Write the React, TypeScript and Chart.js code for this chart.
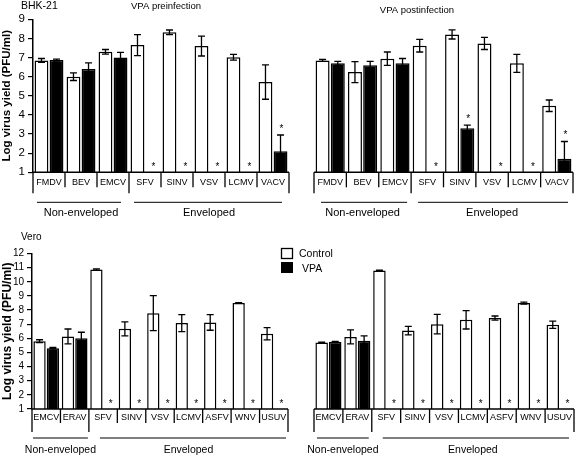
import React, { useEffect, useRef } from "react";
import { Chart, registerables } from "chart.js";
Chart.register(...registerables);

const FONT = "'Liberation Sans', Arial, Helvetica, sans-serif";
Chart.defaults.font.family = FONT;

// ---------- DATA ----------
const bhkCategories = ["FMDV", "BEV", "EMCV", "SFV", "SINV", "VSV", "LCMV", "VACV"];
const bhkGroupLabels = ["Non-enveloped", "Enveloped"];
const bhkGroupSizes = [3, 5];

const preControl = [6.85, 6.0, 7.3, 7.65, 8.32, 7.6, 7.02, 5.72];
const preControlErr = [0.1, 0.2, 0.12, 0.55, 0.12, 0.52, 0.15, 0.9];
const preVpa: (number | null)[] = [6.87, 6.4, 7.0, null, null, null, null, 2.1];
const preVpaErr = [0.05, 0.32, 0.27, 0, 0, 0, 0, 0.85];
const preStars = [false, false, false, true, true, true, true, true];

const postControl = [6.85, 6.24, 6.94, 7.62, 8.21, 7.74, 6.7, 4.48];
const postControlErr = [0.05, 0.55, 0.35, 0.33, 0.24, 0.32, 0.47, 0.3];
const postVpa: (number | null)[] = [6.7, 6.6, 6.7, null, 3.3, null, null, 1.71];
const postVpaErr = [0.1, 0.2, 0.25, 0, 0.17, 0, 0, 0.9];
const postStars = [false, false, false, true, true, true, true, true];

const veroCategories = ["EMCV", "ERAV", "SFV", "SINV", "VSV", "LCMV", "ASFV", "WNV", "USUV"];
const veroGroupLabels = ["Non-enveloped", "Enveloped"];
const veroGroupSizes = [2, 7];

const veroPreControl = [5.8, 6.13, 10.86, 6.67, 7.78, 7.08, 7.12, 8.5, 6.32];
const veroPreControlErr = [0.1, 0.53, 0.05, 0.5, 1.24, 0.6, 0.55, 0.03, 0.43];
const veroPreVpa: (number | null)[] = [5.3, 6.01, null, null, null, null, null, null, null];
const veroPreVpaErr = [0.05, 0.42, 0, 0, 0, 0, 0, 0, 0];
const veroPreStars = [false, false, true, true, true, true, true, true, true];

const veroPostControl = [5.7, 6.1, 10.79, 6.55, 7.0, 7.31, 7.43, 8.49, 6.96];
const veroPostControlErr = [0.03, 0.5, 0.03, 0.3, 0.69, 0.65, 0.15, 0.07, 0.26];
const veroPostVpa: (number | null)[] = [5.75, 5.82, null, null, null, null, null, null, null];
const veroPostVpaErr = [0.03, 0.35, 0, 0, 0, 0, 0, 0, 0];
const veroPostStars = [false, false, true, true, true, true, true, true, true];

const seriesNames = ["Control", "VPA"];
const yTitle = "Log virus yield (PFU/ml)";

// ---------- LAYOUT ----------
type Heading = { text: string; x: number; y: number; align: CanvasTextAlign; size: number };
type Panel = {
  left: number; top: number; width: number; height: number;
  pad: { left: number; right: number; top: number; bottom: number };
  yMin: number; yMax: number; showY: boolean; yAxisWidth: number; tickSize: number; titleSize: number;
  categories: string[]; control: (number | null)[]; controlErr: number[];
  vpa: (number | null)[]; vpaErr: number[]; stars: boolean[];
  groupLabels: string[]; groupSizes: number[]; groupInsets: [number, number][];
  headings: Heading[]; legend: boolean;
  labelDy: number; innerDy: number; outerDy: number; groupLineDy: number; groupTextDy: number; groupTextSize: number;
};

const panels: Panel[] = [
  {
    left: 0, top: 0, width: 292, height: 230,
    pad: { left: 0, right: 3, top: 19.3, bottom: 57.7 },
    yMin: 1, yMax: 9, showY: true, yAxisWidth: 33, tickSize: 11.5, titleSize: 11.5,
    categories: bhkCategories, control: preControl, controlErr: preControlErr,
    vpa: preVpa, vpaErr: preVpaErr, stars: preStars,
    groupLabels: bhkGroupLabels, groupSizes: bhkGroupSizes, groupInsets: [[4, 8], [5, 7]],
    headings: [
      { text: "BHK-21", x: 21, y: 6, align: "left", size: 10.5 },
      { text: "VPA preinfection", x: 166, y: 6, align: "center", size: 9.5 },
    ],
    legend: false,
    labelDy: 10, innerDy: 15, outerDy: 21, groupLineDy: 30, groupTextDy: 41, groupTextSize: 11,
  },
  {
    left: 290, top: 0, width: 286, height: 230,
    pad: { left: 24, right: 3, top: 19.3, bottom: 57.7 },
    yMin: 1, yMax: 9, showY: false, yAxisWidth: 0, tickSize: 11, titleSize: 11.5,
    categories: bhkCategories, control: postControl, controlErr: postControlErr,
    vpa: postVpa, vpaErr: postVpaErr, stars: postStars,
    groupLabels: bhkGroupLabels, groupSizes: bhkGroupSizes, groupInsets: [[7, 4], [7, 5]],
    headings: [{ text: "VPA postinfection", x: 127, y: 10, align: "center", size: 9.5 }],
    legend: false,
    labelDy: 10, innerDy: 15, outerDy: 21, groupLineDy: 30, groupTextDy: 41, groupTextSize: 11,
  },
  {
    left: 0, top: 230, width: 290, height: 226,
    pad: { left: 0, right: 2, top: 23.5, bottom: 47 },
    yMin: 1, yMax: 12, showY: true, yAxisWidth: 32, tickSize: 10, titleSize: 12,
    categories: veroCategories, control: veroPreControl, controlErr: veroPreControlErr,
    vpa: veroPreVpa, vpaErr: veroPreVpaErr, stars: veroPreStars,
    groupLabels: veroGroupLabels, groupSizes: veroGroupSizes, groupInsets: [[1, 1], [11, 2]],
    headings: [{ text: "Vero", x: 21, y: 7, align: "left", size: 10 }],
    legend: false,
    labelDy: 9, innerDy: 14, outerDy: 23, groupLineDy: 29, groupTextDy: 41, groupTextSize: 10.5,
  },
  {
    left: 276, top: 230, width: 300, height: 226,
    pad: { left: 38, right: 2, top: 23.5, bottom: 47 },
    yMin: 1, yMax: 12, showY: false, yAxisWidth: 0, tickSize: 10, titleSize: 12,
    categories: veroCategories, control: veroPostControl, controlErr: veroPostControlErr,
    vpa: veroPostVpa, vpaErr: veroPostVpaErr, stars: veroPostStars,
    groupLabels: veroGroupLabels, groupSizes: veroGroupSizes, groupInsets: [[3, 3], [11, 5]],
    headings: [],
    legend: true,
    labelDy: 9, innerDy: 14, outerDy: 23, groupLineDy: 29, groupTextDy: 41, groupTextSize: 10.5,
  },
];

function makePlugin(p: Panel) {
  return {
    id: "panelDecor",
    afterDatasetsDraw(chart: any) {
      const ctx: CanvasRenderingContext2D = chart.ctx;
      const y = chart.scales.y;
      const sets: [(number | null)[], number[], boolean[] | null][] = [
        [p.control, p.controlErr, null],
        [p.vpa, p.vpaErr, p.stars],
      ];
      ctx.save();
      ctx.strokeStyle = "#000";
      ctx.fillStyle = "#000";
      ctx.lineWidth = 1.3;
      sets.forEach(([vals, errs, stars], di) => {
        const meta = chart.getDatasetMeta(di);
        vals.forEach((v, j) => {
          const el = meta.data[j];
          if (!el) return;
          const bx = el.x;
          if (v != null && errs[j] > 0) {
            const yt = y.getPixelForValue(v + errs[j]);
            const yb = y.getPixelForValue(Math.max(v - errs[j], p.yMin));
            ctx.beginPath();
            ctx.moveTo(bx, yt); ctx.lineTo(bx, yb);
            ctx.moveTo(bx - 3.5, yt); ctx.lineTo(bx + 3.5, yt);
            ctx.moveTo(bx - 3.5, yb); ctx.lineTo(bx + 3.5, yb);
            ctx.stroke();
          }
          if (stars && stars[j]) {
            const ref = v == null ? y.getPixelForValue(p.yMin) : y.getPixelForValue(v + errs[j]);
            const cy = ref - (v == null ? 7.5 : 9);
            ctx.font = `10px ${FONT}`;
            ctx.textAlign = "center";
            ctx.textBaseline = "alphabetic";
            ctx.fillText("*", bx + 1, cy + 5.6);
          }
        });
      });
      ctx.restore();
    },
    afterDraw(chart: any) {
      const ctx: CanvasRenderingContext2D = chart.ctx;
      const area = chart.chartArea;
      const y = chart.scales.y;
      const n = p.categories.length;
      const cw = (area.right - area.left) / n;
      const y0 = y.getPixelForValue(p.yMin);
      ctx.save();
      ctx.strokeStyle = "#000";
      ctx.fillStyle = "#000";
      // baseline
      ctx.lineWidth = 1.5;
      ctx.beginPath();
      ctx.moveTo(area.left - (p.showY ? 0.75 : 0), y0);
      ctx.lineTo(area.right, y0);
      ctx.stroke();
      // separators
      const outer = new Set<number>([0, n]);
      let acc = 0;
      p.groupSizes.forEach((s) => { acc += s; outer.add(acc); });
      ctx.lineWidth = 1.3;
      for (let k = 0; k <= n; k++) {
        const x = area.left + k * cw;
        ctx.beginPath();
        ctx.moveTo(x, y0);
        ctx.lineTo(x, y0 + (outer.has(k) ? p.outerDy : p.innerDy));
        ctx.stroke();
      }
      // category labels
      ctx.font = `9px ${FONT}`;
      ctx.textAlign = "center";
      ctx.textBaseline = "middle";
      p.categories.forEach((c, i) => {
        ctx.fillText(c, area.left + (i + 0.5) * cw, y0 + p.labelDy);
      });
      // groups
      let start = 0;
      p.groupSizes.forEach((s, g) => {
        const xs = area.left + start * cw;
        const xe = area.left + (start + s) * cw;
        const [il, ir] = p.groupInsets[g];
        ctx.lineWidth = 1;
        ctx.beginPath();
        ctx.moveTo(xs + il, y0 + p.groupLineDy);
        ctx.lineTo(xe - ir, y0 + p.groupLineDy);
        ctx.stroke();
        ctx.font = `${p.groupTextSize}px ${FONT}`;
        ctx.fillText(p.groupLabels[g], (xs + xe) / 2, y0 + p.groupTextDy);
        start += s;
      });
      // headings
      p.headings.forEach((h) => {
        ctx.font = `${h.size}px ${FONT}`;
        ctx.textAlign = h.align;
        ctx.textBaseline = "middle";
        ctx.fillText(h.text, h.x, h.y);
      });
      // legend
      if (p.legend) {
        ctx.lineWidth = 1.3;
        ctx.fillStyle = "#fff";
        ctx.fillRect(5.5, 18.5, 11, 10);
        ctx.strokeRect(5.5, 18.5, 11, 10);
        ctx.fillStyle = "#000";
        ctx.fillRect(5, 32, 12, 11);
        ctx.font = `10.5px ${FONT}`;
        ctx.textAlign = "left";
        ctx.textBaseline = "middle";
        ctx.fillText(seriesNames[0], 23, 24);
        ctx.fillText(seriesNames[1], 26, 39);
      }
      ctx.restore();
    },
  };
}

function PanelChart({ p }: { p: Panel }) {
  const ref = useRef<HTMLCanvasElement | null>(null);
  useEffect(() => {
    if (!ref.current) return;
    const chart = new Chart(ref.current, {
      type: "bar",
      data: {
        labels: p.categories,
        datasets: [
          {
            label: seriesNames[0], data: p.control as any,
            backgroundColor: "#fff", borderColor: "#000", borderWidth: 1.5,
            categoryPercentage: 0.94, barPercentage: 0.92,
          },
          {
            label: seriesNames[1], data: p.vpa as any,
            backgroundColor: "#000", borderColor: "#000", borderWidth: 1.5,
            categoryPercentage: 0.94, barPercentage: 0.92,
          },
        ],
      },
      options: {
        responsive: false,
        animation: false,
        devicePixelRatio: 1,
        layout: { padding: p.pad },
        plugins: { legend: { display: false }, tooltip: { enabled: false }, title: { display: false } },
        scales: {
          x: { type: "category", display: false, offset: true },
          y: {
            display: p.showY,
            min: p.yMin, max: p.yMax,
            afterFit: (s: any) => { if (p.showY) s.width = p.yAxisWidth; },
            ticks: { stepSize: 1, autoSkip: false, color: "#000", font: { size: p.tickSize }, padding: 3 },
            grid: { drawOnChartArea: false, drawTicks: true, tickLength: 5, color: "#000", lineWidth: 1.2 },
            border: { display: true, color: "#000", width: 1.5 },
            title: { display: true, text: yTitle, color: "#000", font: { size: p.titleSize, weight: "bold" }, padding: 0 },
          },
        },
      } as any,
      plugins: [makePlugin(p)],
    });
    return () => chart.destroy();
  }, [p]);
  return (
    <canvas
      ref={ref}
      width={p.width}
      height={p.height}
      style={{ position: "absolute", left: p.left, top: p.top, width: p.width, height: p.height, display: "block" }}
    />
  );
}

export default function App() {
  return (
    <div style={{ position: "absolute", left: 0, top: 0, width: 576, height: 456, background: "#fff", overflow: "hidden" }}>
      {panels.map((p, i) => (
        <PanelChart key={i} p={p} />
      ))}
    </div>
  );
}
